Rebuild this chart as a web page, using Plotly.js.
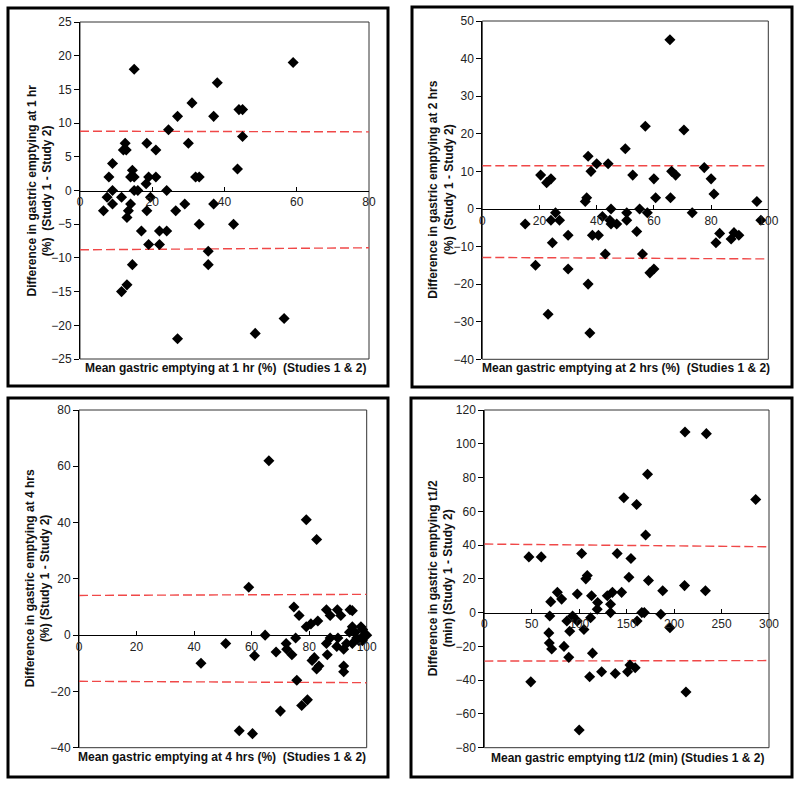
<!DOCTYPE html>
<html><head><meta charset="utf-8">
<script src="https://cdn.plot.ly/plotly-3.0.1.min.js"></script>
<style>html,body{margin:0;padding:0;background:#fff}#chart{width:800px;height:786px}</style>
</head><body><div id="chart"></div>
<script>
// ---- Panel 1: 1 hr ----
const p1X = [15,59,38,31,27,37,44,45,24.5,45,30,12.5,12,12.8,18.5,21,9,8,14.5,14,15,19,21,32,33,43.6,18.3,9,15,16,24,7.5,11.5,19.5,6.5,9,14,13.4,18.5,13,26.5,29,37,33,42.5,17,22,24,19,22,35.5,35.5,14.5,13,11.5,27,48.5,56.5];
const p1Y = [18,19,16,13,11,11,12,12,9,8,7,7,6,6,7,6,4,2,3,2,2,2,2,2,2,3.2,1,0,0,0,0,-1,-1,-1,-3,-2,-2,-3,-3,-4,-3,-2,-2,-5,-5,-6,-6,-6,-8,-8,-9,-11,-11,-14,-15,-22,-21.2,-19];
const p1LimX = [0,80];
const p1Upper = [8.8,8.7];
const p1Lower = [-8.8,-8.5];

// ---- Panel 2: 2 hrs ----
const p2X = [65.6,57,70.5,50,37,40,44,38,20.4,22.5,24,52.6,60,66.2,67.6,77.6,80,81,36.5,60.6,65.8,96,36,15,25.6,24,27,45,42,44.6,45,47,50.5,50.5,55,57.7,54,24.5,30,38.5,40.6,43,56,18.6,30,58.6,60,37,23,37.6,73.4,83,81.7,87,88,89.7,97.4];
const p2Y = [45,22,21,16,14,12,12,10,9,7,8,9,8,10,9,11,8,4,3,3,3,2,2,-4,-1,-3,-3,0,-2,-3,-4,-4,-1,-3,0,-1,-6,-9,-7,-7,-7,-12,-12,-15,-16,-17,-16,-20,-28,-33,-1,-6.5,-9,-8,-6.3,-7,-3];
const p2LimX = [0,100];
const p2Upper = [11.5,11.5];
const p2Lower = [-12.9,-13.3];

// ---- Panel 3: 4 hrs ----
const p3X = [66,79,82.6,59,42.4,51,55.7,60.3,61,64.7,68.5,70,72,72.2,74,74.7,75.3,76.5,75.7,77.4,79.4,79,80.6,83,81,81.8,82.6,83.4,86,87.3,86,87.3,86.3,89.8,91,90,89.6,92,92,92,93,94,94.2,95,95,95,96,96.5,97.3,98,98.5,99,100,98.6];
const p3Y = [62,41,34,17,-10,-3,-34,-35,-7.3,0,-6,-27,-3,-5,-7,10,-1,7,-16,-25,-23,3,4,5,-9,-8,-12,-11,9,7,-3,-1,-7,9,7,-1,-4,-5,-11,-13,-3,1,9,8.7,3,-3,1,-1,-2,3,-2,0,0,2];
const p3LimX = [0,100];
const p3Upper = [14.1,14.5];
const p3Lower = [-16.4,-16.9];

// ---- Panel 4: t1/2 ----
const p4X = [211.5,234,172,147,160.5,286,170,47,60,102.6,140,154.5,108.5,107,152.4,173,211,233,188,77,98,113,129.6,135,144.7,70,81.5,119.4,119,112,133,133,69,68,68.5,71,84,87,90,93,89,98,100,105,111,114,123.6,138,151,153.5,159,161,166,168.6,186,195.6,212.5,49];
const p4Y = [107,106,82,68,64,67,46,33,33,35,35,32,22,20,21,19,16,13,13,12,11,10,10,12,12,6.5,8,6,2,-3,5,0,-2,-12,-18,-21.6,-20,-5,-11,-2,-26.5,-5,-69.5,-10,-38,-24,-35,-36,-35,-31,-32.6,-5,0,0,-1,-9,-47,-41];
const p4LimX = [0,300];
const p4Upper = [40.6,39.0];
const p4Lower = [-28.7,-28.4];

const xTitles = [
  "Mean gastric emptying at 1 hr (%)  (Studies 1 &amp; 2)",
  "Mean gastric emptying at 2 hrs (%)  (Studies 1 &amp; 2)",
  "Mean gastric emptying at 4 hrs (%)  (Studies 1 &amp; 2)",
  "Mean gastric emptying t1/2 (min) (Studies 1 &amp; 2)"
];
const yTitles = [
  ["Difference in gastric emptying at 1 hr", "(%)  (Study 1 - Study 2)"],
  ["Difference in gastric emptying at 2 hrs", "(%)  (Study 1 - Study 2)"],
  ["Difference in gastric emptying at 4 hrs", "(%) (Study 1 - Study 2)"],
  ["Difference in gastric emptying t1/2", "(min) (Study 1 - Study 2)"]
];

const W = 800, H = 786;
const FONT = "Liberation Sans, Arial, Helvetica, sans-serif";

const panels = [
  {x:p1X, y:p1Y, limX:p1LimX, up:p1Upper, lo:p1Lower, px:[80,369], py:[22,359], xr:[0,80], yr:[-25,25], xd:20, yd:5,
   box:[8,8,388,386], xtC:[225,368], ytX:40},
  {x:p2X, y:p2Y, limX:p2LimX, up:p2Upper, lo:p2Lower, px:[482.3,768.3], py:[21,359.3], xr:[0,100], yr:[-40,50], xd:20, yd:10,
   box:[412,7,792,387], xtC:[626,368], ytX:441.5},
  {x:p3X, y:p3Y, limX:p3LimX, up:p3Upper, lo:p3Lower, px:[79,366.7], py:[410,747.7], xr:[0,100], yr:[-40,80], xd:20, yd:20,
   box:[8,398,388,777], xtC:[222,757], ytX:37.5},
  {x:p4X, y:p4Y, limX:p4LimX, up:p4Upper, lo:p4Lower, px:[484.3,769], py:[410,747.7], xr:[0,300], yr:[-80,120], xd:50, yd:20,
   box:[411,398,792,777], xtC:[627.5,758], ytX:440.5}
];

const traces = [], shapes = [], annotations = [];
const layout = {
  width: W, height: H, margin: {l:0, r:0, t:0, b:0},
  paper_bgcolor: "#fff", plot_bgcolor: "#fff",
  showlegend: false,
  font: {family: FONT, size: 12, color: "#222"}
};

panels.forEach((p, i) => {
  const n = i === 0 ? "" : String(i + 1);
  const xa = "x" + n, ya = "y" + n;
  const yDom = [1 - p.py[1] / H, 1 - p.py[0] / H];
  const xDom = [p.px[0] / W, p.px[1] / W];
  const zeroPos = yDom[0] + (0 - p.yr[0]) / (p.yr[1] - p.yr[0]) * (yDom[1] - yDom[0]);

  layout["xaxis" + n] = {
    domain: xDom, range: p.xr, anchor: "free", position: zeroPos,
    showline: true, linecolor: "#000", linewidth: 1.3,
    ticks: "inside", ticklen: 4, tickcolor: "#000", tickwidth: 1,
    tick0: 0, dtick: p.xd, showgrid: false, zeroline: false,
    tickfont: {family: FONT, size: 12, color: "#222"}, fixedrange: true
  };
  layout["yaxis" + n] = {
    domain: yDom, range: p.yr, anchor: xa,
    showline: true, linecolor: "#000", linewidth: 1,
    ticks: "outside", ticklen: 5, tickcolor: "#000", tickwidth: 1,
    tick0: 0, dtick: p.yd, showgrid: false, zeroline: false,
    tickfont: {family: FONT, size: 12, color: "#222"}, fixedrange: true
  };

  traces.push({x: p.limX, y: p.up, xaxis: xa, yaxis: ya, mode: "lines", type: "scatter",
    line: {color: "#f04848", width: 1.4, dash: "9px,4px"}, hoverinfo: "skip"});
  traces.push({x: p.limX, y: p.lo, xaxis: xa, yaxis: ya, mode: "lines", type: "scatter",
    line: {color: "#f04848", width: 1.4, dash: "9px,4px"}, hoverinfo: "skip"});
  traces.push({x: p.x, y: p.y, xaxis: xa, yaxis: ya, mode: "markers", type: "scatter",
    marker: {symbol: "diamond", size: 8.5, color: "#000"}, cliponaxis: false});

  shapes.push({type: "rect", xref: xa + " domain", yref: ya + " domain", x0: 0, x1: 1, y0: 0, y1: 1,
    line: {color: "#333", width: 1}, layer: "below"});
  shapes.push({type: "rect", xref: "paper", yref: "paper",
    x0: p.box[0] / W, x1: p.box[2] / W, y0: 1 - p.box[3] / H, y1: 1 - p.box[1] / H,
    line: {color: "#000", width: 3}});

  annotations.push({xref: "paper", yref: "paper", x: p.xtC[0] / W, y: 1 - p.xtC[1] / H,
    xanchor: "center", yanchor: "middle", showarrow: false,
    text: "<b>" + xTitles[i] + "</b>", font: {family: FONT, size: 12, color: "#111"}});
  annotations.push({xref: "paper", yref: ya + " domain", x: p.ytX / W, y: 0.5,
    xanchor: "center", yanchor: "middle", showarrow: false, textangle: -90,
    text: "<b>" + yTitles[i][0] + "</b><br><b>" + yTitles[i][1] + "</b>",
    font: {family: FONT, size: 12, color: "#111"}});
});

layout.shapes = shapes;
layout.annotations = annotations;
Plotly.newPlot("chart", traces, layout, {staticPlot: true, displayModeBar: false});
</script>
</body></html>
